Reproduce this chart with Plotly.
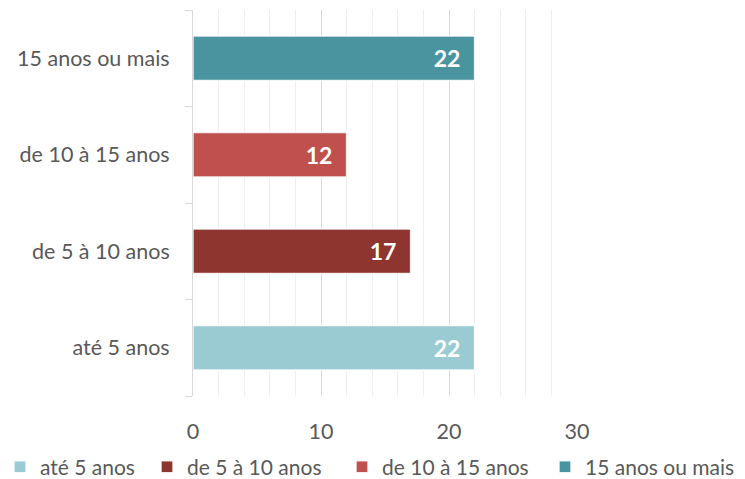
import plotly.graph_objects as go

categories = ["até 5 anos", "de 5 à 10 anos", "de 10 à 15 anos", "15 anos ou mais"]
values = [22, 17, 12, 22]
colors = ["#9BCBD2", "#8E3530", "#C0504D", "#4A94A0"]
x_ticks = [0, 10, 20, 30]

W, H = 745, 479
legend_text_x = [33, 187, 382, 585]  # left edge of each legend text (px)
legend_names = ["legend", "legend2", "legend3", "legend4"]

fig = go.Figure()
for cat, val, col, lg in zip(categories, values, colors, legend_names):
    fig.add_trace(go.Bar(
        y=[cat], x=[val], name=cat, orientation="h", legend=lg,
        marker=dict(color=col, line=dict(color="rgba(255,255,255,0.85)", width=1.5)),
        width=0.46,
        text=[f"{val}\u00a0\u00a0"], textposition="inside", insidetextanchor="end",
        textfont=dict(color="white", size=23, family="Lato", weight="bold"),
        hoverinfo="skip",
    ))

legend_common = dict(orientation="h", xref="container", yref="container",
                     xanchor="left", yanchor="middle", y=1 - 467 / H,
                     font=dict(size=21, color="#595959", family="Lato"),
                     itemwidth=30, bgcolor="rgba(0,0,0,0)")
layout_legends = {}
for lg, tx in zip(legend_names, legend_text_x):
    layout_legends[lg] = dict(legend_common, x=max(tx - 40, 0) / W)

fig.update_layout(
    width=W, height=H,
    margin=dict(l=193, r=168, t=10, b=83, autoexpand=False),
    paper_bgcolor="white", plot_bgcolor="white",
    barmode="overlay",
    font=dict(family="Lato", color="#595959", size=21.5),
    showlegend=True,
    xaxis=dict(range=[0, 30], tickvals=x_ticks, showgrid=True, gridcolor="#D9D9D9",
               gridwidth=1, zeroline=False, showline=False,
               minor=dict(dtick=2, showgrid=True, gridcolor="#EFEFEF", gridwidth=1),
               tickfont=dict(size=21.5, color="#595959"), ticklabelstandoff=20),
    yaxis=dict(categoryorder="array", categoryarray=categories, showline=True,
               linecolor="#D9D9D9", linewidth=1, ticks="outside", tickson="boundaries",
               ticklen=7, tickcolor="#D9D9D9", showgrid=False,
               tickfont=dict(size=21.5, color="#595959"), ticklabelstandoff=18),
    **layout_legends,
)

fig.write_html("out.html", config={"displayModeBar": False},
               post_script="document.body.style.margin='0';document.body.style.overflow='hidden';")
